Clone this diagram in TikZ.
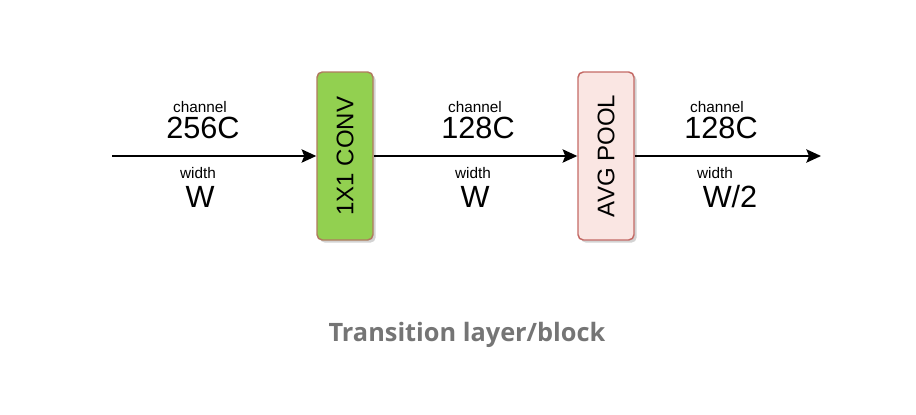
\documentclass[tikz,border=0pt]{standalone}
\usepackage{fontspec}
\setmainfont{Liberation Sans}
\newfontfamily\captionfont{Open Sans}
\usetikzlibrary{arrows.meta,shadows}
\definecolor{convgreen}{HTML}{92D050}
\definecolor{convedge}{HTML}{B07A5E}
\definecolor{poolpink}{HTML}{FAE6E3}
\definecolor{pooledge}{HTML}{C46A66}
\definecolor{capgray}{HTML}{757575}
\begin{document}
\begin{tikzpicture}[x=0.75pt,y=-0.75pt,
    layerbox/.style={draw,rounded corners=4pt,line width=1.1pt,rotate=90,
      minimum width=126pt,minimum height=42pt,inner sep=0pt,
      font=\fontsize{18}{18}\selectfont,
      drop shadow={shadow xshift=2pt,shadow yshift=-2pt,opacity=0.35}},
    flow/.style={line width=1.2pt,-{Stealth[length=11pt,width=10pt,inset=2pt]}},
    small/.style={anchor=base,font=\fontsize{11.5}{12}\selectfont},
    big/.style={anchor=base,font=\fontsize{23}{24}\selectfont}]
  \useasboundingbox (0,0) rectangle (916,414);
  % blocks
  \node[layerbox,fill=convgreen,draw=convedge] (conv) at (345,156) {1X1 CONV};
  \node[layerbox,fill=poolpink,draw=pooledge] (pool) at (606,156) {AVG POOL};
  \coordinate (in) at (112,156);
  \coordinate (out) at (821,156);
  % connectors
  \draw[flow] (in) -- (conv);
  \draw[flow] (conv) -- (pool);
  \draw[flow] (pool) -- (out);
  % sizes
  \node[small] (ch1) at (200,112) {channel};
  \node[big] (c1) at (203,138) {256C};
  \node[small] (wd1) at (198,178) {width};
  \node[big] (w1) at (200,207) {W};
  \node[small] (ch2) at (475,112) {channel};
  \node[big] (c2) at (478,138) {128C};
  \node[small] (wd2) at (473,178) {width};
  \node[big] (w2) at (475,207) {W};
  \node[small] (ch3) at (717,112) {channel};
  \node[big] (c3) at (721,138) {128C};
  \node[small] (wd3) at (715,178) {width};
  \node[big] (w3) at (730,207) {W/2};
  % caption
  \node[font=\captionfont\bfseries\fontsize{19}{20}\selectfont,text=capgray] (cap) at (467,335) {Transition layer/block};
\end{tikzpicture}
\end{document}
